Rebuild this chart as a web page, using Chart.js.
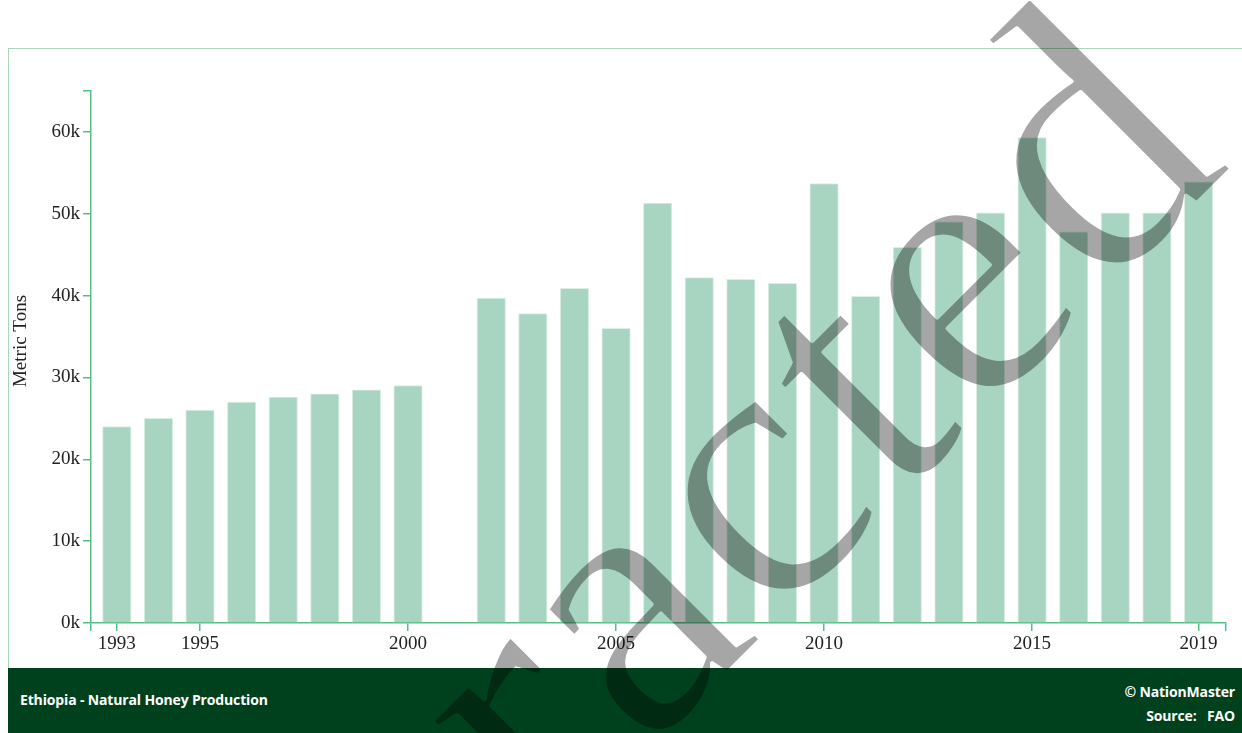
<!DOCTYPE html>
<html lang="en">
<head>
    <meta charset="UTF-8">
    <title>Ethiopia - Natural Honey Production</title>
    <script src="https://cdn.jsdelivr.net/npm/chart.js"></script>
    <style>
        html, body { margin: 0; padding: 0; background: #fff; width: 1242px; height: 733px; overflow: hidden; }
        .card { position: absolute; left: 8px; top: 48px; width: 1240px; height: 620px; border: 1px solid #a9d6b9; border-bottom: none; box-sizing: border-box; }
        .chart-box { position: absolute; left: 0; top: 0; width: 1234px; height: 620px; }
        .footer { position: absolute; left: 8px; top: 668px; width: 1240px; height: 70px; background: #00411d; color: #fff;
                  font-family: "Open Sans", sans-serif; font-weight: 700; font-size: 14px; letter-spacing: -0.15px; }
        .footer .title { position: absolute; left: 12px; top: 22px; }
        .footer .brand { position: absolute; right: 13px; top: 12px; text-align: right; line-height: 24px; }
        #mark { position: absolute; left: 0; top: 0; pointer-events: none; z-index: 10; }
    </style>
</head>
<body>
    <div class="card">
        <div class="chart-box"><canvas id="honeyChart"></canvas></div>
    </div>
    <div class="footer">
        <div class="title">Ethiopia - Natural Honey Production</div>
        <div class="brand">© NationMaster<br>Source:&nbsp;&nbsp; FAO</div>
    </div>
    <canvas id="mark" width="1242" height="733"></canvas>

    <script>
        // Honey production (metric tons) per year, 2001 not reported
        const years = [1993, 1994, 1995, 1996, 1997, 1998, 1999, 2000,
                       2002, 2003, 2004, 2005, 2006, 2007, 2008, 2009, 2010,
                       2011, 2012, 2013, 2014, 2015, 2016, 2017, 2018, 2019];
        const production = [24000, 25000, 26000, 27000, 27600, 28000, 28500, 29000,
                            39700, 37800, 40900, 36000, 51300, 42200, 42000, 41500, 53700,
                            39900, 45900, 49000, 50100, 59300, 47800, 50100, 50100, 53900];
        const yearTicks = [1993, 1995, 2000, 2005, 2010, 2015, 2019];
        const valueTicks = [0, 10000, 20000, 30000, 40000, 50000, 60000];
        const xMin = 1992.38, xMax = 2019.66, yMax = 65000;

        const green = '#55bf88';
        const serif = '"Liberation Serif", "Times New Roman", serif';

        // axis title drawn a bit above the axis middle, like the original
        const yTitle = {
            id: 'yTitle',
            afterDraw(chart) {
                const c = chart.ctx;
                c.save();
                c.translate(12, 292);
                c.rotate(-Math.PI / 2);
                c.font = '19px ' + serif;
                c.fillStyle = '#222';
                c.textAlign = 'center';
                c.textBaseline = 'middle';
                c.fillText('Metric Tons', 0, 0);
                c.restore();
            }
        };

        const ctx = document.getElementById('honeyChart').getContext('2d');
        new Chart(ctx, {
            type: 'bar',
            data: {
                datasets: [{
                    label: 'Metric Tons',
                    data: years.map((y, i) => ({ x: y, y: production[i] })),
                    backgroundColor: '#a8d5c1',
                    borderColor: '#dcefe6',
                    borderWidth: 1,
                    barThickness: 28.5
                }]
            },
            options: {
                responsive: true,
                maintainAspectRatio: false,
                animation: false,
                layout: { padding: { left: 0, top: 42, right: 17, bottom: 0 } },
                plugins: { legend: { display: false }, tooltip: { enabled: false } },
                scales: {
                    x: {
                        type: 'linear',
                        min: xMin,
                        max: xMax,
                        offset: false,
                        grid: { offset: false, drawOnChartArea: false, drawTicks: true, tickLength: 8, color: green, lineWidth: 1.5 },
                        border: { color: green, width: 1.5 },
                        afterBuildTicks: s => { s.ticks = [xMin, ...yearTicks, xMax].map(v => ({ value: v })); },
                        afterFit: s => { s.height = 46; },
                        ticks: {
                            autoSkip: false,
                            maxRotation: 0,
                            padding: 2,
                            color: '#222',
                            font: { family: serif, size: 19 },
                            callback: v => yearTicks.includes(v) ? String(v) : ''
                        }
                    },
                    y: {
                        min: 0,
                        max: yMax,
                        grid: { drawOnChartArea: false, drawTicks: true, tickLength: 8, color: green, lineWidth: 1.5 },
                        border: { color: green, width: 1.5 },
                        afterBuildTicks: s => { s.ticks = [...valueTicks, yMax].map(v => ({ value: v })); },
                        afterFit: s => { s.width = 82; },
                        ticks: {
                            padding: 3,
                            color: '#222',
                            font: { family: serif, size: 19 },
                            callback: v => valueTicks.includes(v) ? (v / 1000) + 'k' : ''
                        }
                    }
                }
            },
            plugins: [yTitle]
        });

        // watermark across the whole picture
        const m = document.getElementById('mark').getContext('2d');
        m.save();
        m.translate(160, 1240);
        m.rotate(-Math.PI / 4);
        m.font = '380px ' + serif;
        m.letterSpacing = '8px';
        m.textBaseline = 'alphabetic';
        m.fillStyle = 'rgba(0, 0, 0, 0.35)';
        m.fillText('Retracted', 0, 0);
        m.globalCompositeOperation = 'destination-out';
        m.lineWidth = 4;
        m.lineJoin = 'round';
        m.strokeStyle = '#000';
        m.strokeText('Retracted', 0, 0);
        m.restore();
    </script>
</body>
</html>
